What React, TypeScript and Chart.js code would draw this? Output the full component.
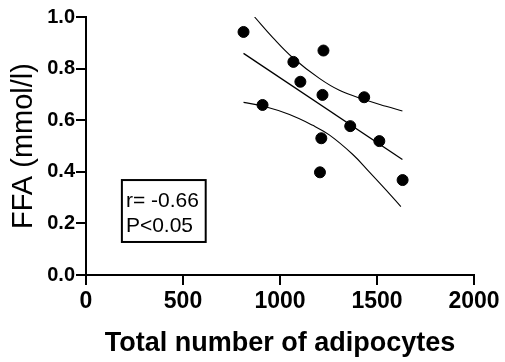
import React, { useEffect, useRef } from "react";
import { Chart, registerables } from "chart.js";

Chart.register(...registerables);

// Data points
const xValues = [812, 1224, 1069, 1105, 1219, 1434, 910, 1362, 1512, 1213, 1206, 1632];
const yValues = [0.942, 0.870, 0.826, 0.749, 0.698, 0.689, 0.659, 0.577, 0.519, 0.530, 0.398, 0.368];

// Regression line
const fitX = [812, 1631];
const fitY = [0.859, 0.448];

// Confidence bands
const upperX = [869, 963, 1066, 1203, 1306, 1434, 1546, 1631];
const upperY = [1.0, 0.92, 0.842, 0.762, 0.716, 0.680, 0.654, 0.636];
const lowerX = [812, 912, 1049, 1169, 1254, 1374, 1460, 1546, 1623];
const lowerY = [0.669, 0.655, 0.622, 0.580, 0.543, 0.468, 0.400, 0.330, 0.265];

const statsLines = ["r= -0.66", "P<0.05"];
// annotation box extent in data units [xMin, xMax, yMin, yMax]
const statsBox = [185, 617, 0.128, 0.368];

const xTicks = [0, 500, 1000, 1500, 2000];
const yTicks = [0, 0.2, 0.4, 0.6, 0.8, 1.0];

const FONT = "'Liberation Sans', Arial, sans-serif";

const zip = (xs: number[], ys: number[]) => xs.map((x, i) => ({ x, y: ys[i] }));

const boxPlugin = {
  id: "statsBox",
  afterDatasetsDraw(chart: any) {
    const { ctx, scales } = chart;
    const x0 = scales.x.getPixelForValue(statsBox[0]);
    const x1 = scales.x.getPixelForValue(statsBox[1]);
    const y0 = scales.y.getPixelForValue(statsBox[3]);
    const y1 = scales.y.getPixelForValue(statsBox[2]);
    ctx.save();
    ctx.strokeStyle = "#000";
    ctx.lineWidth = 2;
    ctx.strokeRect(x0, y0, x1 - x0, y1 - y0);
    ctx.fillStyle = "#000";
    ctx.font = `21px ${FONT}`;
    ctx.textBaseline = "alphabetic";
    ctx.textAlign = "left";
    statsLines.forEach((t, i) => {
      ctx.fillText(t, x0 + 4, y0 + 27 + i * 25);
    });
    ctx.restore();
  },
};

export default function App() {
  const ref = useRef<HTMLCanvasElement>(null);
  useEffect(() => {
    if (!ref.current) return;
    const chart = new Chart(ref.current, {
      type: "scatter",
      data: {
        datasets: [
          {
            data: zip(xValues, yValues),
            backgroundColor: "#000",
            borderColor: "#000",
            pointRadius: 5.5,
            pointHoverRadius: 5.5,
            showLine: false,
          },
          {
            data: zip(fitX, fitY),
            showLine: true,
            borderColor: "#000",
            borderWidth: 1.3,
            pointRadius: 0,
          },
          {
            data: zip(upperX, upperY),
            showLine: true,
            borderColor: "#000",
            borderWidth: 1.1,
            pointRadius: 0,
            tension: 0.4,
          },
          {
            data: zip(lowerX, lowerY),
            showLine: true,
            borderColor: "#000",
            borderWidth: 1.1,
            pointRadius: 0,
            tension: 0.4,
          },
        ],
      },
      options: {
        animation: false,
        responsive: false,
        events: [],
        layout: { padding: { left: 0, top: 17, right: 31, bottom: 0 } },
        plugins: { legend: { display: false }, tooltip: { enabled: false } },
        scales: {
          x: {
            type: "linear",
            min: 0,
            max: 2000,
            afterBuildTicks: (s: any) => {
              s.ticks = xTicks.map((v) => ({ value: v }));
            },
            afterFit: (s: any) => {
              s.height = 87;
            },
            ticks: {
              color: "#000",
              font: { family: FONT, size: 23, weight: "bold" },
              padding: 3,
              maxRotation: 0,
              callback: (v: any) => String(v),
            },
            grid: {
              drawOnChartArea: false,
              drawTicks: true,
              tickLength: 10,
              color: "#000",
              lineWidth: 2,
            },
            border: { display: true, color: "#000", width: 2 },
            title: {
              display: true,
              text: "Total number of adipocytes",
              color: "#000",
              font: { family: FONT, size: 27, weight: "bold" },
              padding: { top: 0, bottom: 2 },
            },
          },
          y: {
            type: "linear",
            min: 0,
            max: 1,
            afterBuildTicks: (s: any) => {
              s.ticks = yTicks.map((v) => ({ value: v }));
            },
            afterFit: (s: any) => {
              s.width = 86;
            },
            ticks: {
              color: "#000",
              font: { family: FONT, size: 20, weight: "bold" },
              padding: 1,
              callback: (v: any) => Number(v).toFixed(1),
            },
            grid: {
              drawOnChartArea: false,
              drawTicks: true,
              tickLength: 10,
              color: "#000",
              lineWidth: 2,
            },
            border: { display: true, color: "#000", width: 2 },
            title: {
              display: true,
              text: "FFA (mmol/l)",
              color: "#000",
              font: { family: FONT, size: 29, weight: "normal" },
              padding: { top: 7, bottom: 0 },
            },
          },
        },
      },
      plugins: [boxPlugin],
    } as any);
    return () => chart.destroy();
  }, []);
  return (
    <div style={{ position: "absolute", left: 0, top: 0, width: 505, height: 362, background: "#fff" }}>
      <canvas ref={ref} width={505} height={362} />
    </div>
  );
}
